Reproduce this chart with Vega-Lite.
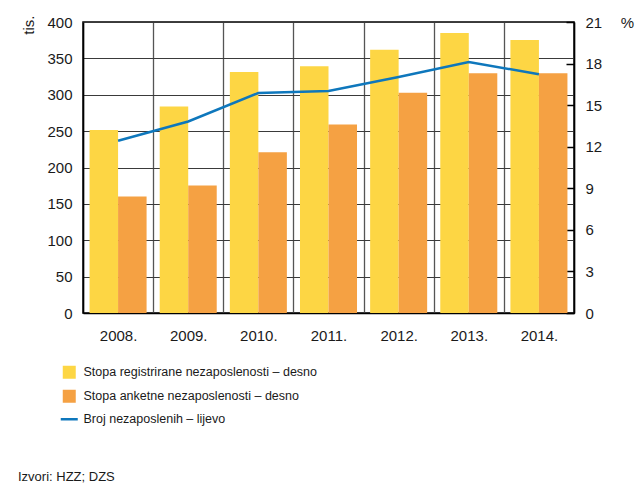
{
  "$schema": "https://vega.github.io/schema/vega-lite/v6.json",
  "width": 491,
  "height": 291,
  "autosize": {"type": "none"},
  "padding": {"left": 83, "top": 22, "right": 63, "bottom": 179},
  "background": "white",
  "config": {
    "font": "Liberation Sans, sans-serif",
    "view": {"stroke": "#000", "strokeWidth": 1.5},
    "axis": {
      "labelFont": "Liberation Sans, sans-serif",
      "labelFontSize": 15,
      "labelColor": "#1a1a1a",
      "titleFont": "Liberation Sans, sans-serif",
      "titleFontSize": 15,
      "titleFontWeight": "normal",
      "titleColor": "#1a1a1a",
      "domainColor": "#000",
      "domainWidth": 1.5,
      "gridColor": "#3a3a3a",
      "gridWidth": 1,
      "gridOpacity": 1,
      "tickColor": "#000"
    },
    "legend": {
      "labelFont": "Liberation Sans, sans-serif",
      "labelFontSize": 12.5,
      "labelColor": "#1a1a1a"
    }
  },
  "datasets": {
    "bars": [
      {"year": "2008.", "series": "Stopa registrirane nezaposlenosti – desno", "value": 13.2},
      {"year": "2009.", "series": "Stopa registrirane nezaposlenosti – desno", "value": 14.9},
      {"year": "2010.", "series": "Stopa registrirane nezaposlenosti – desno", "value": 17.4},
      {"year": "2011.", "series": "Stopa registrirane nezaposlenosti – desno", "value": 17.8},
      {"year": "2012.", "series": "Stopa registrirane nezaposlenosti – desno", "value": 19.0},
      {"year": "2013.", "series": "Stopa registrirane nezaposlenosti – desno", "value": 20.2},
      {"year": "2014.", "series": "Stopa registrirane nezaposlenosti – desno", "value": 19.7},
      {"year": "2008.", "series": "Stopa anketne nezaposlenosti – desno", "value": 8.4},
      {"year": "2009.", "series": "Stopa anketne nezaposlenosti – desno", "value": 9.2},
      {"year": "2010.", "series": "Stopa anketne nezaposlenosti – desno", "value": 11.6},
      {"year": "2011.", "series": "Stopa anketne nezaposlenosti – desno", "value": 13.6},
      {"year": "2012.", "series": "Stopa anketne nezaposlenosti – desno", "value": 15.9},
      {"year": "2013.", "series": "Stopa anketne nezaposlenosti – desno", "value": 17.3},
      {"year": "2014.", "series": "Stopa anketne nezaposlenosti – desno", "value": 17.3}
    ],
    "line": [
      {"year": "2008.", "series": "Broj nezaposlenih – lijevo", "value": 236.7},
      {"year": "2009.", "series": "Broj nezaposlenih – lijevo", "value": 263.2},
      {"year": "2010.", "series": "Broj nezaposlenih – lijevo", "value": 302.4},
      {"year": "2011.", "series": "Broj nezaposlenih – lijevo", "value": 305.3},
      {"year": "2012.", "series": "Broj nezaposlenih – lijevo", "value": 324.3},
      {"year": "2013.", "series": "Broj nezaposlenih – lijevo", "value": 345.1},
      {"year": "2014.", "series": "Broj nezaposlenih – lijevo", "value": 328.2}
    ]
  },
  "title": {
    "text": "Izvori: HZZ; DZS",
    "orient": "bottom",
    "anchor": "start",
    "frame": "group",
    "dx": -65,
    "offset": 45,
    "font": "Liberation Sans, sans-serif",
    "fontSize": 13,
    "fontWeight": "normal",
    "color": "#1a1a1a"
  },
  "layer": [
    {
      "data": {"name": "bars"},
      "mark": {"type": "bar"},
      "encoding": {
        "x": {
          "field": "year",
          "type": "nominal",
          "sort": null,
          "scale": {"paddingInner": 0, "paddingOuter": 0},
          "axis": {
            "title": null,
            "labelAngle": 0,
            "ticks": false,
            "grid": true,
            "tickBand": "extent",
            "labelPadding": 15,
            "gridColor": "#555",
            "gridWidth": 1.3
          }
        },
        "xOffset": {
          "field": "series",
          "type": "nominal",
          "sort": ["Stopa registrirane nezaposlenosti – desno", "Stopa anketne nezaposlenosti – desno"],
          "scale": {"paddingInner": 0, "paddingOuter": 0.23}
        },
        "y": {
          "field": "value",
          "type": "quantitative",
          "scale": {"domain": [0, 21], "nice": false},
          "axis": {
            "orient": "right",
            "values": [0, 3, 6, 9, 12, 15, 18, 21],
            "grid": false,
            "ticks": true,
            "tickSize": -8,
            "tickWidth": 1.5,
            "labelPadding": 19,
            "title": "%",
            "titleAngle": 0,
            "titleX": 53,
            "titleY": 0,
            "titleAlign": "center",
            "titleBaseline": "middle"
          }
        },
        "color": {
          "field": "series",
          "type": "nominal",
          "scale": {
            "domain": ["Stopa registrirane nezaposlenosti – desno", "Stopa anketne nezaposlenosti – desno", "Broj nezaposlenih – lijevo"],
            "range": ["#FDD644", "#F5A143", "#0E77BC"]
          },
          "legend": {
            "orient": "none",
            "legendX": -20,
            "legendY": 344,
            "title": null,
            "padding": 0,
            "symbolSize": 169,
            "symbolType": "square",
            "symbolStrokeWidth": 0,
            "symbolOpacity": 1,
            "rowPadding": 10,
            "labelOffset": 8,
            "labelLimit": 400,
            "encode": {
              "symbols": {
                "update": {
                  "shape": {"signal": "datum.value === 'Broj nezaposlenih – lijevo' ? 'stroke' : 'square'"},
                  "fill": {"signal": "scale('color', datum.value)"},
                  "stroke": {"signal": "scale('color', datum.value)"},
                  "strokeWidth": {"signal": "datum.value === 'Broj nezaposlenih – lijevo' ? 2.5 : 0"},
                  "size": {"signal": "datum.value === 'Broj nezaposlenih – lijevo' ? 289 : 169"},
                  "opacity": {"value": 1}
                }
              }
            }
          }
        }
      }
    },
    {
      "data": {"name": "line"},
      "mark": {"type": "line", "strokeWidth": 2.5},
      "encoding": {
        "x": {"field": "year", "type": "nominal", "sort": null},
        "y": {
          "field": "value",
          "type": "quantitative",
          "scale": {"domain": [0, 400], "nice": false},
          "axis": {
            "orient": "left",
            "values": [0, 50, 100, 150, 200, 250, 300, 350, 400],
            "grid": true,
            "ticks": false,
            "labelPadding": 11,
            "title": "tis.",
            "titleAngle": 270,
            "titleX": -55,
            "titleY": -7,
            "titleAlign": "right",
            "titleBaseline": "middle"
          }
        },
        "color": {"field": "series", "type": "nominal"}
      }
    }
  ],
  "resolve": {"scale": {"y": "independent"}}
}
